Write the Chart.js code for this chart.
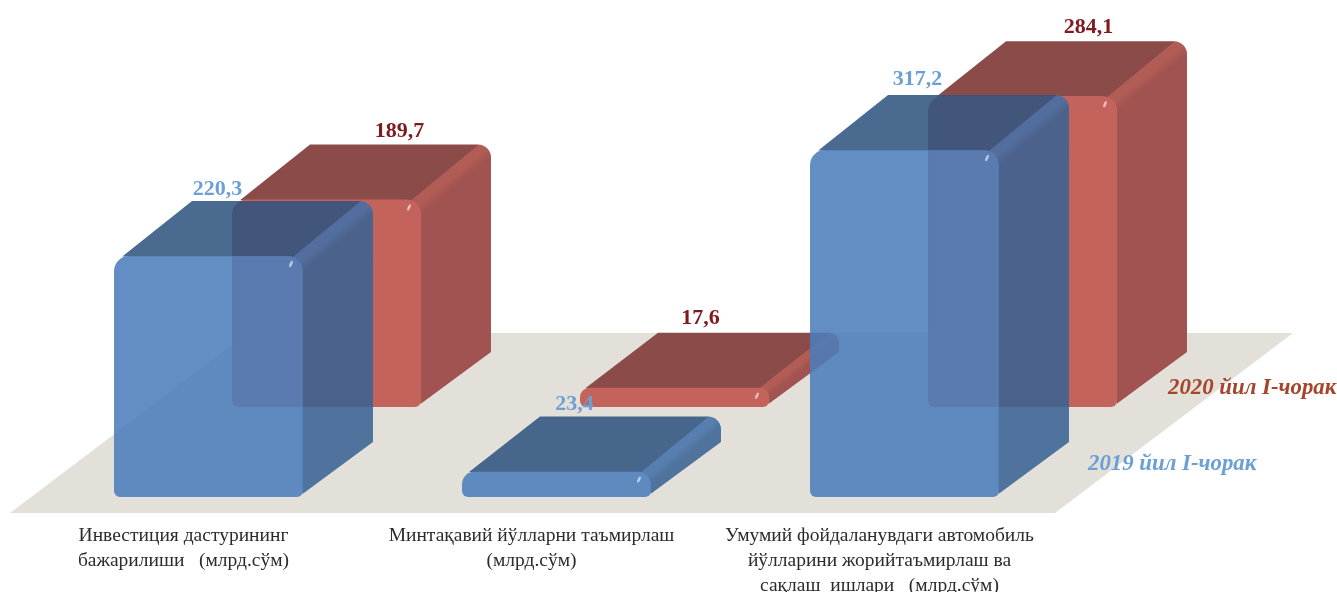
<!DOCTYPE html>
<html>
<head>
<meta charset="utf-8">
<title>chart</title>
<script src="https://cdn.jsdelivr.net/npm/chart.js@4"></script>
<style>
body { margin: 0; background: #fff; }
canvas { display: block; }
</style>
</head>
<body>
<canvas id="graph1" width="1337" height="592"></canvas>
<script>
var categories = [
    ["Инвестиция дастурининг", "бажарилиши   (млрд.сўм)"],
    ["Минтақавий йўлларни таъмирлаш", "(млрд.сўм)"],
    ["Умумий фойдаланувдаги автомобиль", "йўлларини жорийтаъмирлаш ва", "сақлаш  ишлари   (млрд.сўм)"]
];
var seriesNames = ["2019 йил I-чорак", "2020 йил I-чорак"];
var values2019 = [220.3, 23.4, 317.2];
var values2020 = [189.7, 17.6, 284.1];

// how the box is pushed back in the picture
var depthX = 70, depthY = 55;
var rowX = 118, rowY = 90;

var faces2019 = {front: "rgba(75,125,187,0.87)", side: "rgba(57,99,147,0.87)", top: "rgba(47,84,128,0.87)", bevel: "rgba(66,112,168,0.87)", text: "#6b9fd6"};
var faces2020 = {front: "#c4625c", side: "#a05350", top: "#8b4b49", bevel: "#b25c56", text: "#7f1a1f"};

function rowShift(ds) { return ds.backRow ? [rowX, -rowY] : [0, 0]; }

function drawBox(ctx, bar, faces) {
    var x0 = bar.x - bar.width / 2, x1 = bar.x + bar.width / 2;
    var top = bar.y, bottom = bar.base;
    var r = Math.min(15, (bottom - top) / 2);
    var backR = Math.min(13, r);

    // top, bevel and side are one shape, a gradient across the bevel splits them
    var px = x1 - 6, py = top - 3;
    var vx = depthX - backR + 6, vy = 3 - depthY;
    var len = Math.sqrt(vx * vx + vy * vy);
    var band = r + 3;
    var g = ctx.createLinearGradient(px, py, px - vy / len * band, py + vx / len * band);
    g.addColorStop(0, faces.top);
    g.addColorStop(0.06, faces.bevel);
    g.addColorStop(0.5, faces.bevel);
    g.addColorStop(1, faces.side);
    ctx.fillStyle = g;
    ctx.beginPath();
    ctx.moveTo(x0 + r * 0.55, top + 0.5);
    ctx.lineTo(x0 + depthX + 8, top - depthY);
    ctx.lineTo(x1 + depthX - backR, top - depthY);
    ctx.arcTo(x1 + depthX, top - depthY, x1 + depthX, top - depthY + backR, backR);
    ctx.lineTo(x1 + depthX, bottom - depthY);
    ctx.lineTo(x1 - 0.5, bottom - 3);
    ctx.lineTo(x1 - 0.5, top + r);
    ctx.arc(x1 - r, top + r, r - 0.5, 0, -Math.PI / 2, true);
    ctx.closePath();
    ctx.fill();
}

var boxes = {
    id: "boxes",
    beforeDatasetsDraw: function (chart) {
        // floor under the bars
        var ctx = chart.ctx, area = chart.chartArea;
        ctx.save();
        ctx.fillStyle = "#e3e0d9";
        ctx.beginPath();
        ctx.moveTo(area.left - 24.5, area.bottom + 16);
        ctx.lineTo(area.right - 23.5, area.bottom + 16);
        ctx.lineTo(area.right + 214.5, area.bottom - 164);
        ctx.lineTo(area.left + 213.5, area.bottom - 164);
        ctx.closePath();
        ctx.fill();
        ctx.restore();
    },
    beforeDatasetDraw: function (chart, args) {
        var ds = chart.data.datasets[args.index];
        var s = rowShift(ds), ctx = chart.ctx;
        ctx.save();
        ctx.translate(s[0], s[1]);
        args.meta.data.forEach(function (bar) { drawBox(ctx, bar, ds.faces); });
    },
    afterDatasetDraw: function (chart, args) {
        var ctx = chart.ctx;
        args.meta.data.forEach(function (bar) {
            // small shine on the front corner
            ctx.fillStyle = "rgba(255,255,255,0.6)";
            ctx.beginPath();
            ctx.ellipse(bar.x + bar.width / 2 - 12, bar.y + 8, 1.3, 3.4, 0.4, 0, Math.PI * 2);
            ctx.fill();
        });
        ctx.restore();
    },
    afterDatasetsDraw: function (chart) {
        var ctx = chart.ctx, area = chart.chartArea;
        ctx.save();
        ctx.textAlign = "center";
        ctx.textBaseline = "middle";
        ctx.font = "bold 22px 'Liberation Serif'";
        chart.data.datasets.forEach(function (ds, i) {
            var s = rowShift(ds);
            ctx.fillStyle = ds.faces.text;
            chart.getDatasetMeta(i).data.forEach(function (bar, j) {
                var txt = String(ds.data[j]).replace(".", ",");
                ctx.fillText(txt, bar.x + s[0] + ds.labelNudge[j], bar.y + s[1] - depthY - ds.labelRise[j]);
            });
        });
        ctx.textAlign = "left";
        ctx.textBaseline = "alphabetic";
        ctx.font = "italic bold 22.8px 'Liberation Serif'";
        ctx.fillStyle = "#6b9fd6";
        ctx.fillText(seriesNames[0], area.right + 9.5, area.bottom - 27);
        ctx.fillStyle = "#a5452b";
        ctx.fillText(seriesNames[1], area.right + 89.5, area.bottom - 103);
        ctx.restore();
    }
};

new Chart(document.getElementById("graph1"), {
    type: "bar",
    data: {
        labels: categories,
        datasets: [
            {label: seriesNames[0], data: values2019, backgroundColor: faces2019.front, faces: faces2019, labelNudge: [9, 18, 13], labelRise: [12, 12, 16]},
            {label: seriesNames[1], data: values2020, backgroundColor: faces2020.front, faces: faces2020, labelNudge: [73, 26, 66], labelRise: [13, 14, 14], backRow: true}
        ]
    },
    options: {
        responsive: false,
        animation: false,
        events: [],
        layout: {padding: {left: 34.5, right: 258.5, top: 59.4, bottom: 0}},
        datasets: {
            bar: {
                grouped: false,
                barPercentage: 0.543,
                categoryPercentage: 1,
                borderWidth: 0,
                borderSkipped: false,
                borderRadius: {topLeft: 15, topRight: 15, bottomLeft: 6, bottomRight: 6},
                clip: false
            }
        },
        plugins: {legend: {display: false}, title: {display: false}, tooltip: {enabled: false}},
        scales: {
            x: {
                grid: {display: false},
                border: {display: false},
                afterFit: function (scale) { scale.height = 95; },
                ticks: {
                    autoSkip: false,
                    maxRotation: 0,
                    padding: 18.5,
                    labelOffset: -25,
                    color: "#2b2b2b",
                    font: {family: "'Liberation Serif'", size: 19.5, lineHeight: 1.27}
                }
            },
            y: {display: false, min: 0, max: 400}
        }
    },
    plugins: [boxes]
});
</script>
</body>
</html>
